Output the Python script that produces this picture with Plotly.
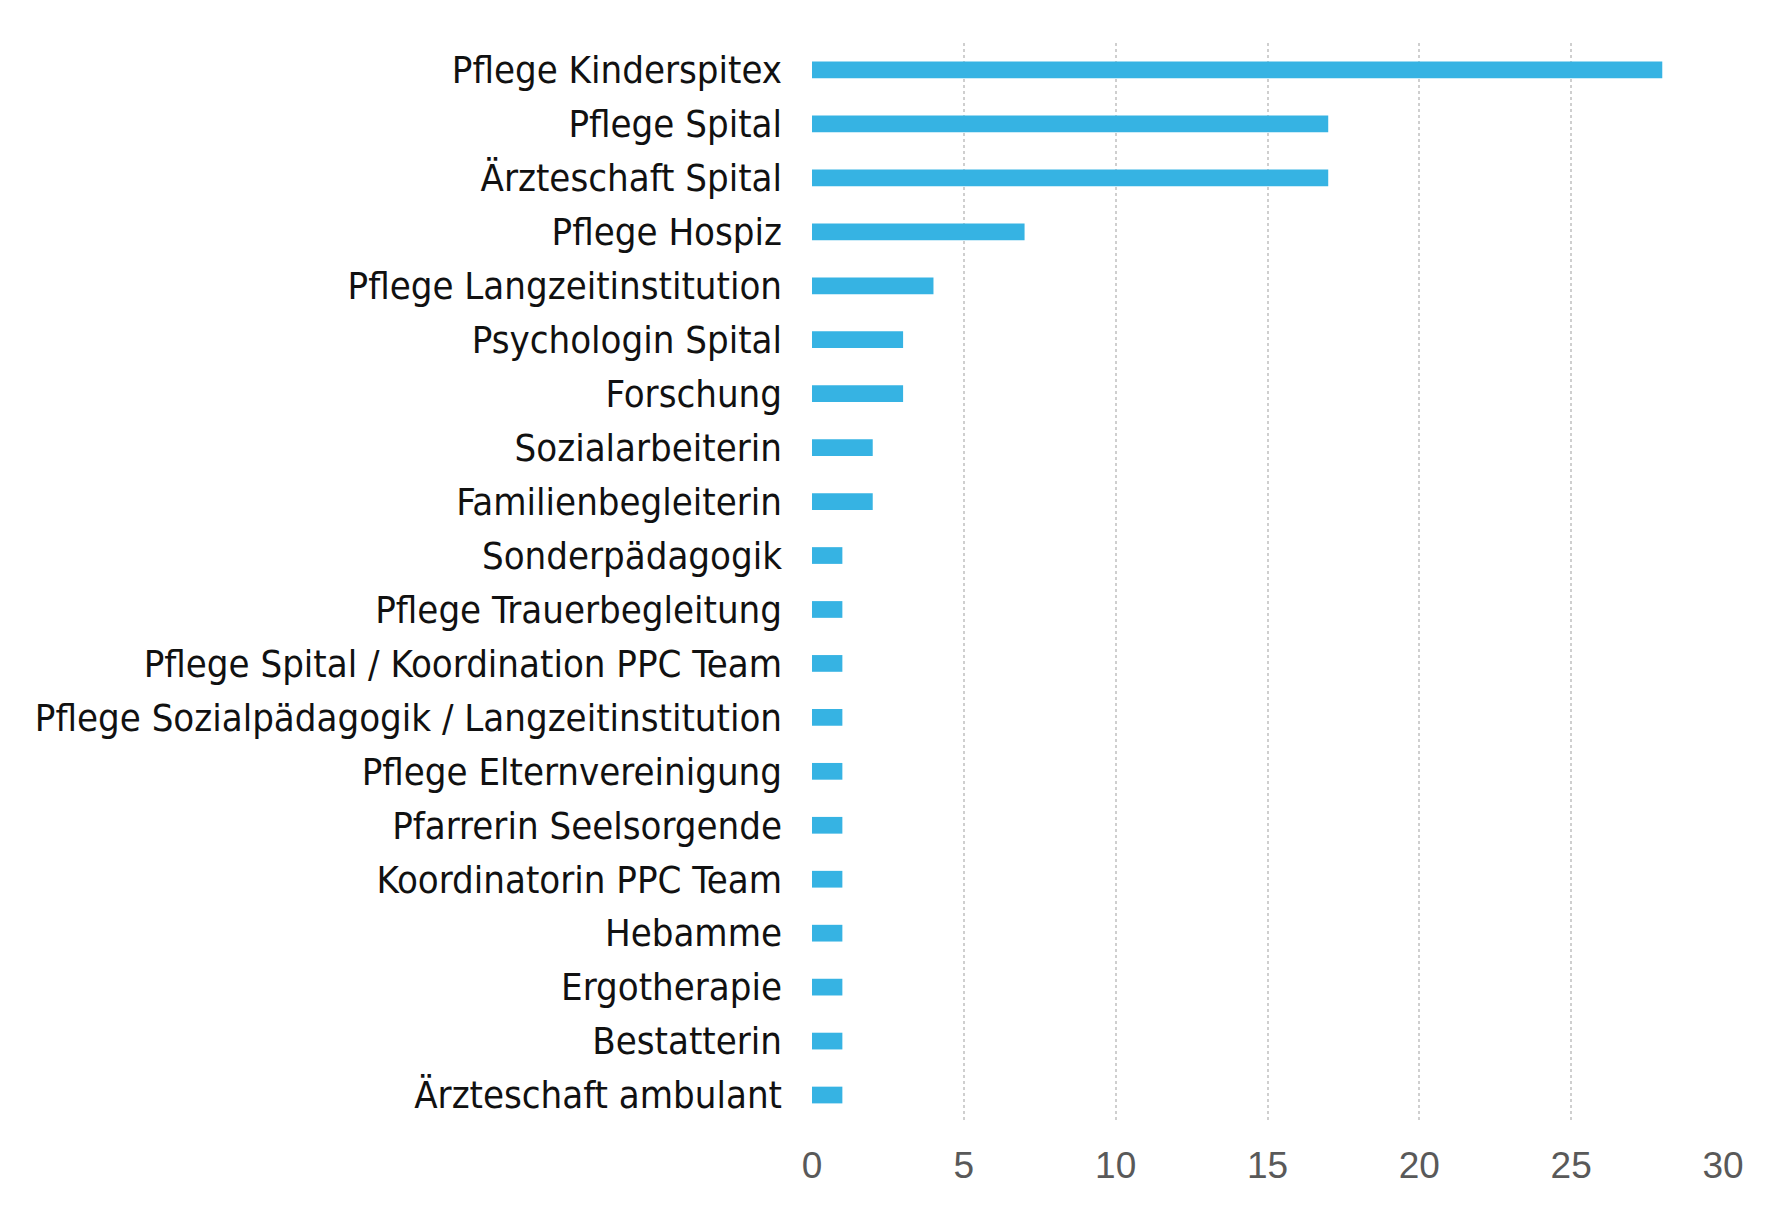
import plotly.graph_objects as go

# categories, top to bottom as in the chart
rollen = [
    "Pflege Kinderspitex",
    "Pflege Spital",
    "Ärzteschaft Spital",
    "Pflege Hospiz",
    "Pflege Langzeitinstitution",
    "Psychologin Spital",
    "Forschung",
    "Sozialarbeiterin",
    "Familienbegleiterin",
    "Sonderpädagogik",
    "Pflege Trauerbegleitung",
    "Pflege Spital / Koordination PPC Team",
    "Pflege Sozialpädagogik / Langzeitinstitution",
    "Pflege Elternvereinigung",
    "Pfarrerin Seelsorgende",
    "Koordinatorin PPC Team",
    "Hebamme",
    "Ergotherapie",
    "Bestatterin",
    "Ärzteschaft ambulant",
]
anzahl = [28, 17, 17, 7, 4, 3, 3, 2, 2, 1, 1, 1, 1, 1, 1, 1, 1, 1, 1, 1]
x_ticks = [0, 5, 10, 15, 20, 25, 30]

fig = go.Figure()
fig.add_trace(go.Bar(
    x=anzahl,
    y=rollen,
    orientation='h',
    width=0.31,
    marker=dict(color='#36b3e3', line=dict(width=0)),
    showlegend=False,
))

fig.update_layout(
    width=1790,
    height=1210,
    margin=dict(l=804, r=75, t=35, b=96),
    plot_bgcolor='white',
    paper_bgcolor='white',
    xaxis=dict(
        range=[0, 30],
        tickvals=x_ticks,
        showgrid=True,
        gridcolor='#cfcfcf',
        griddash='dot',
        gridwidth=1.5,
        zeroline=False,
        showline=False,
        ticks='',
        ticklabelstandoff=18,
        tickfont=dict(family='Liberation Sans', size=37, color='#595959'),
    ),
    yaxis=dict(
        autorange='reversed',
        showgrid=False,
        zeroline=False,
        showline=False,
        ticks='',
        ticklabelstandoff=29,
        tickfont=dict(family='"DejaVu Sans Condensed", "Liberation Sans Narrow", Roboto, sans-serif',
                      size=38, color='#111111'),
    ),
)

fig.write_html("out.html")
